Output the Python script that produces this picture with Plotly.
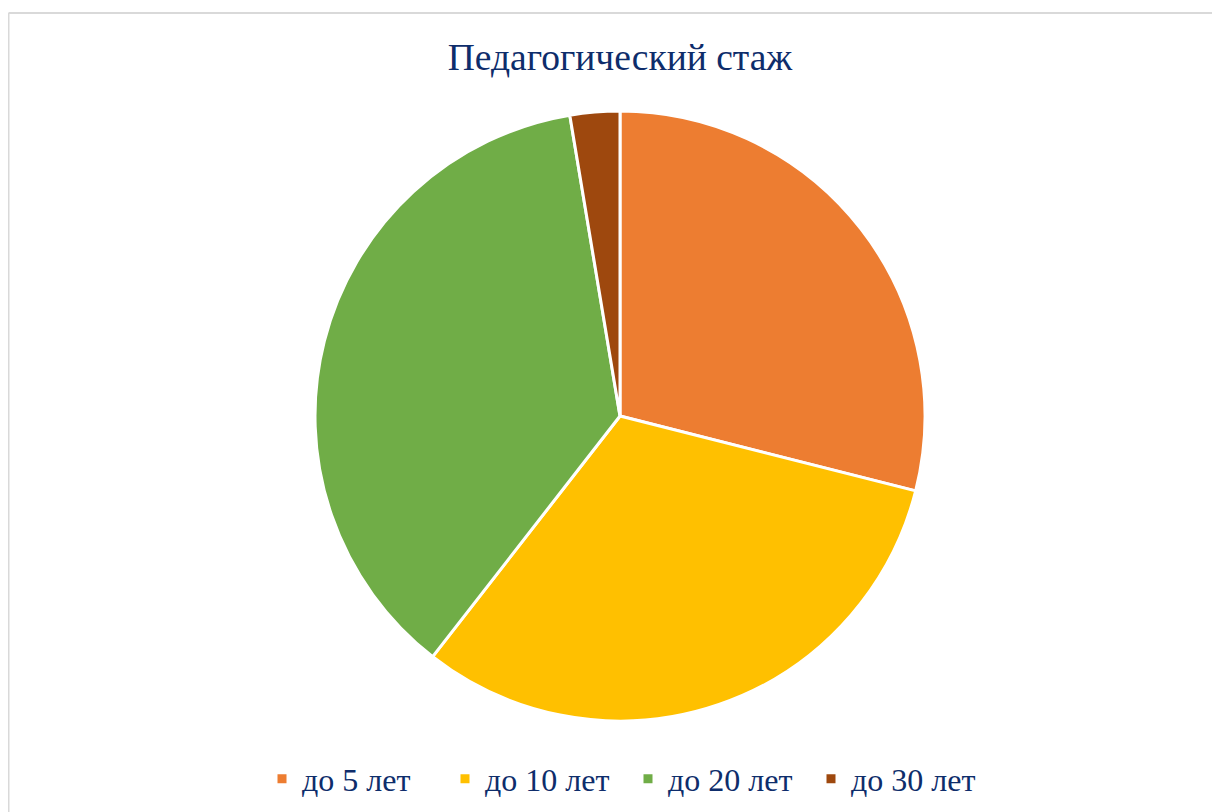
import plotly.graph_objects as go

categories = ["до 5 лет", "до 10 лет", "до 20 лет", "до 30 лет"]
values = [11, 12, 14, 1]
colors = ["#ED7D31", "#FFC000", "#70AD47", "#9E480E"]

# page body has an 8px margin, so figure coords = screen coords - 8
W, H = 1212, 804
OFF = 8
cx, cy, r = 620 - OFF, 416 - OFF, 305

SERIF = "'Liberation Serif', 'Times New Roman', Times, 'DejaVu Serif', serif"

fig = go.Figure(go.Pie(
    labels=categories,
    values=values,
    sort=False,
    direction="clockwise",
    rotation=0,
    textinfo="none",
    hoverinfo="label+value+percent",
    marker=dict(colors=colors, line=dict(color="white", width=3)),
    domain=dict(x=[(cx - r) / W, (cx + r) / W], y=[1 - (cy + r) / H, 1 - (cy - r) / H]),
))

fig.update_layout(
    width=W, height=H,
    margin=dict(l=0, r=0, t=0, b=0),
    paper_bgcolor="white",
    plot_bgcolor="white",
    title=dict(text="Педагогический стаж", x=(620 - OFF) / W, xanchor="center",
               y=1 - (57 - OFF) / H, yanchor="middle",
               font=dict(family=SERIF, size=37.5, color="#0E2D6B")),
    legend=dict(orientation="h", x=(262 - OFF) / W, xanchor="left", y=1 - (779 - OFF) / H, yanchor="middle",
                font=dict(family=SERIF, size=32, color="#0E2D6B"),
                entrywidth=138, entrywidthmode="pixels",
                traceorder="normal", bgcolor="rgba(0,0,0,0)"),
    shapes=[
        dict(type="line", xref="paper", yref="paper", x0=0.5 / W, x1=1.0, y0=1 - (13 - OFF) / H, y1=1 - (13 - OFF) / H,
             line=dict(color="#D9D9D9", width=2)),
        dict(type="line", xref="paper", yref="paper", x0=0.5 / W, x1=0.5 / W, y0=0, y1=1 - (13 - OFF) / H,
             line=dict(color="#D9D9D9", width=2)),
    ],
)

fig.write_html("out.html")
